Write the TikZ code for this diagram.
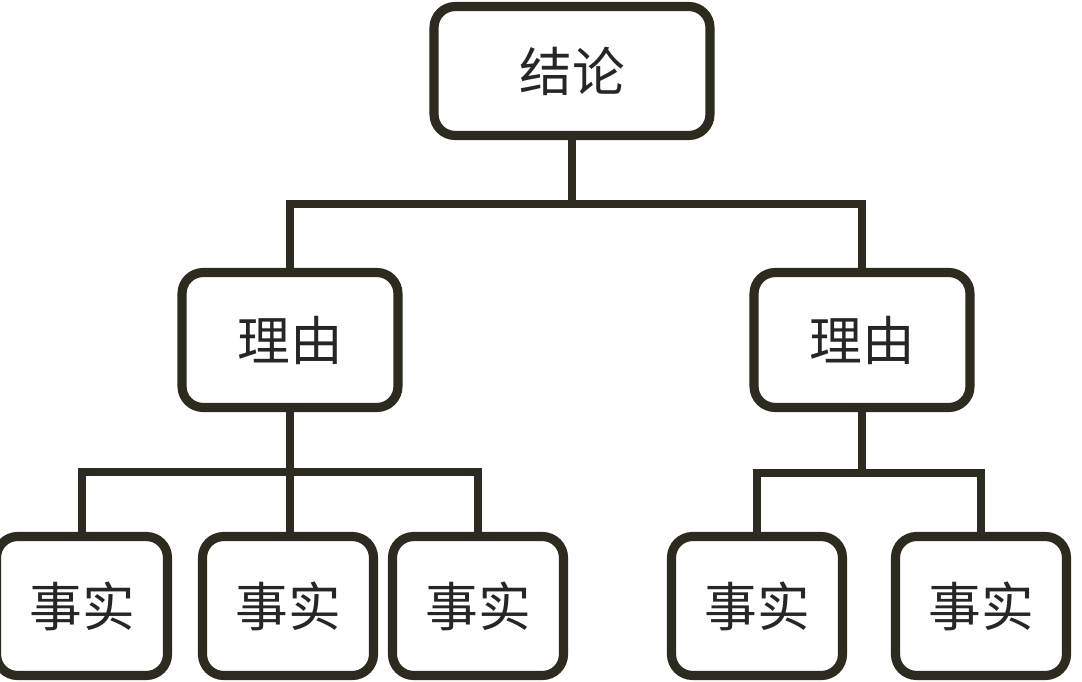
\documentclass[tikz,border=0pt]{standalone}
\usepackage{fontspec}
\newfontfamily\cjk{Noto Sans CJK SC}
\definecolor{ink}{RGB}{45,42,32}
\tikzset{
  box/.style={draw=ink,line width=5.2pt,rounded corners=12pt,fill=white,
    font=\cjk\fontsize{30}{31}\selectfont,text=black!85,inner sep=0pt},
  link/.style={draw=ink,line width=4.8pt}
}
\begin{document}
\begin{tikzpicture}[x=0.02cm,y=-0.02cm]
\useasboundingbox[fill=white] (0,0) rectangle (1082,682);
\node[box,minimum width=5.52cm,minimum height=2.58cm] (concl) at (572,71) {结论};
\node[box,minimum width=4.32cm,minimum height=2.7cm] (reasonL) at (290,340) {理由};
\node[box,minimum width=4.32cm,minimum height=2.7cm] (reasonR) at (862,340) {理由};
\node[box,minimum width=3.42cm,minimum height=2.78cm] (f1) at (82,606) {事实};
\node[box,minimum width=3.42cm,minimum height=2.78cm] (f2) at (288,606) {事实};
\node[box,minimum width=3.42cm,minimum height=2.78cm] (f3) at (478,606) {事实};
\node[box,minimum width=3.42cm,minimum height=2.78cm] (f4) at (757,606) {事实};
\node[box,minimum width=3.42cm,minimum height=2.78cm] (f5) at (981,606) {事实};
\coordinate (j1) at (572,204);
\coordinate (j2) at (290,472);
\coordinate (j3) at (862,473);
\draw[link](concl.south)--(j1);
\draw[link](reasonL.north)|-(j1)-|(reasonR.north);
\draw[link](reasonL.south)--(j2);
\draw[link](f1.north)|-(j2)-|(f3.north);
\draw[link](j2)--(j2|-f2.north);
\draw[link](reasonR.south)--(j3);
\draw[link](f4.north)|-(j3)-|(f5.north);
\end{tikzpicture}
\end{document}
